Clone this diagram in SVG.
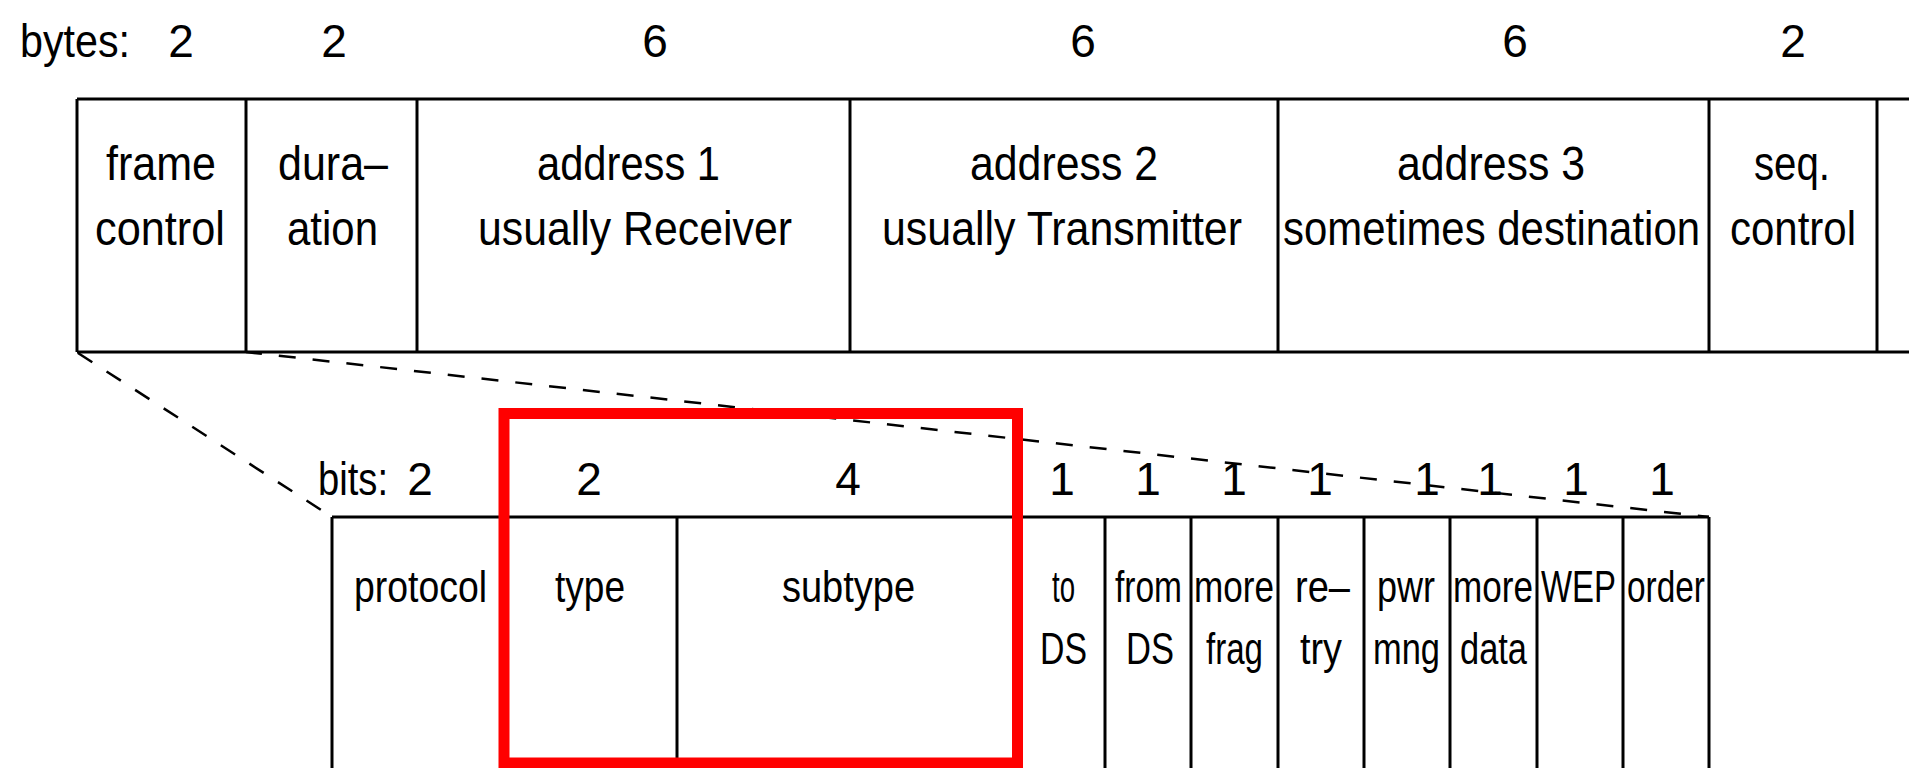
<svg xmlns="http://www.w3.org/2000/svg" width="1909" height="768" viewBox="0 0 1909 768">
<style>
text{font-family:"Liberation Sans",Arial,sans-serif;fill:#000;}
.lab{font-size:46px;}
.up{font-size:48px;}
.lo{font-size:44px;}
.mid{text-anchor:middle;}
.cell{fill:none;stroke:#000;stroke-width:3;}
.conn{fill:none;stroke:#000;stroke-width:2.5;stroke-dasharray:17 17;}
.hl{fill:none;stroke:#ff0000;stroke-width:11;}
</style>
<rect x="0" y="0" width="1909" height="768" fill="#fff"/>

<g id="connectors">
<line class="conn" x1="78" y1="353" x2="332" y2="517" stroke-dasharray="16 18"/>
<line class="conn" x1="246" y1="352" x2="1709" y2="517" stroke-dashoffset="-33"/>
</g>

<g id="byte-labels" class="lab">
<text x="20" y="57" textLength="110" lengthAdjust="spacingAndGlyphs">bytes:</text>
<text class="mid" x="181" y="57">2</text>
<text class="mid" x="334" y="57">2</text>
<text class="mid" x="655" y="57">6</text>
<text class="mid" x="1083" y="57">6</text>
<text class="mid" x="1515" y="57">6</text>
<text class="mid" x="1793" y="57">2</text>
</g>

<g id="mac-header">
<line class="cell" x1="77" y1="99" x2="1909" y2="99"/>
<line class="cell" x1="77" y1="352" x2="1909" y2="352"/>
<line class="cell" x1="77" y1="99" x2="77" y2="352"/>
</g>
<g id="frame-control" class="up">
<line class="cell" x1="246" y1="99" x2="246" y2="352"/>
<text x="106" y="180" textLength="110" lengthAdjust="spacingAndGlyphs">frame</text>
<text x="95" y="245" textLength="130" lengthAdjust="spacingAndGlyphs">control</text>
</g>
<g id="duration" class="up">
<line class="cell" x1="417" y1="99" x2="417" y2="352"/>
<text x="278" y="180" textLength="110" lengthAdjust="spacingAndGlyphs">dura–</text>
<text x="287" y="245" textLength="91" lengthAdjust="spacingAndGlyphs">ation</text>
</g>
<g id="address1" class="up">
<line class="cell" x1="850" y1="99" x2="850" y2="352"/>
<text x="537" y="180" textLength="183" lengthAdjust="spacingAndGlyphs">address 1</text>
<text x="478" y="245" textLength="314" lengthAdjust="spacingAndGlyphs">usually Receiver</text>
</g>
<g id="address2" class="up">
<line class="cell" x1="1278" y1="99" x2="1278" y2="352"/>
<text x="970" y="180" textLength="188" lengthAdjust="spacingAndGlyphs">address 2</text>
<text x="882" y="245" textLength="360" lengthAdjust="spacingAndGlyphs">usually Transmitter</text>
</g>
<g id="address3" class="up">
<line class="cell" x1="1709" y1="99" x2="1709" y2="352"/>
<text x="1397" y="180" textLength="188" lengthAdjust="spacingAndGlyphs">address 3</text>
<text x="1283" y="245" textLength="417" lengthAdjust="spacingAndGlyphs">sometimes destination</text>
</g>
<g id="seq-control" class="up">
<line class="cell" x1="1877" y1="99" x2="1877" y2="352"/>
<text x="1754" y="180" textLength="76" lengthAdjust="spacingAndGlyphs">seq.</text>
<text x="1730" y="245" textLength="126" lengthAdjust="spacingAndGlyphs">control</text>
</g>

<g id="bit-labels" class="lab">
<text x="318" y="495" textLength="70" lengthAdjust="spacingAndGlyphs">bits:</text>
<text class="mid" x="420" y="495">2</text>
<text class="mid" x="589" y="495">2</text>
<text class="mid" x="848" y="495">4</text>
<text class="mid" x="1062" y="495">1</text>
<text class="mid" x="1148" y="495">1</text>
<text class="mid" x="1234" y="495">1</text>
<text class="mid" x="1320" y="495">1</text>
<text class="mid" x="1427" y="495">1</text>
<text class="mid" x="1490" y="495">1</text>
<text class="mid" x="1576" y="495">1</text>
<text class="mid" x="1662" y="495">1</text>
</g>

<g id="frame-control-fields">
<line class="cell" x1="332" y1="517" x2="1709" y2="517"/>
<line class="cell" x1="332" y1="517" x2="332" y2="768"/>
</g>
<g id="protocol" class="lo">
<line class="cell" x1="505" y1="517" x2="505" y2="768"/>
<text x="354" y="602" textLength="133" lengthAdjust="spacingAndGlyphs">protocol</text>
</g>
<g id="type" class="lo">
<line class="cell" x1="677" y1="517" x2="677" y2="768"/>
<text x="555" y="602" textLength="70" lengthAdjust="spacingAndGlyphs">type</text>
</g>
<g id="subtype" class="lo">
<line class="cell" x1="1018" y1="517" x2="1018" y2="768"/>
<text x="782" y="602" textLength="133" lengthAdjust="spacingAndGlyphs">subtype</text>
</g>
<g id="to-ds" class="lo">
<line class="cell" x1="1105" y1="517" x2="1105" y2="768"/>
<text x="1052" y="602" textLength="23" lengthAdjust="spacingAndGlyphs">to</text>
<text x="1040" y="664" textLength="47" lengthAdjust="spacingAndGlyphs">DS</text>
</g>
<g id="from-ds" class="lo">
<line class="cell" x1="1191" y1="517" x2="1191" y2="768"/>
<text x="1115" y="602" textLength="67" lengthAdjust="spacingAndGlyphs">from</text>
<text x="1126" y="664" textLength="48" lengthAdjust="spacingAndGlyphs">DS</text>
</g>
<g id="more-frag" class="lo">
<line class="cell" x1="1278" y1="517" x2="1278" y2="768"/>
<text x="1194" y="602" textLength="80" lengthAdjust="spacingAndGlyphs">more</text>
<text x="1206" y="664" textLength="57" lengthAdjust="spacingAndGlyphs">frag</text>
</g>
<g id="retry" class="lo">
<line class="cell" x1="1364" y1="517" x2="1364" y2="768"/>
<text x="1295" y="602" textLength="55" lengthAdjust="spacingAndGlyphs">re–</text>
<text x="1300" y="664" textLength="42" lengthAdjust="spacingAndGlyphs">try</text>
</g>
<g id="pwr-mng" class="lo">
<line class="cell" x1="1450" y1="517" x2="1450" y2="768"/>
<text x="1377" y="602" textLength="58" lengthAdjust="spacingAndGlyphs">pwr</text>
<text x="1373" y="664" textLength="67" lengthAdjust="spacingAndGlyphs">mng</text>
</g>
<g id="more-data" class="lo">
<line class="cell" x1="1537" y1="517" x2="1537" y2="768"/>
<text x="1453" y="602" textLength="80" lengthAdjust="spacingAndGlyphs">more</text>
<text x="1460" y="664" textLength="67" lengthAdjust="spacingAndGlyphs">data</text>
</g>
<g id="wep" class="lo">
<line class="cell" x1="1623" y1="517" x2="1623" y2="768"/>
<text x="1541" y="602" textLength="75" lengthAdjust="spacingAndGlyphs">WEP</text>
</g>
<g id="order" class="lo">
<line class="cell" x1="1709" y1="517" x2="1709" y2="768"/>
<text x="1627" y="602" textLength="78" lengthAdjust="spacingAndGlyphs">order</text>
</g>

<g id="highlight">
<rect class="hl" x="504" y="413.5" width="513.5" height="349.5"/>
</g>
</svg>
